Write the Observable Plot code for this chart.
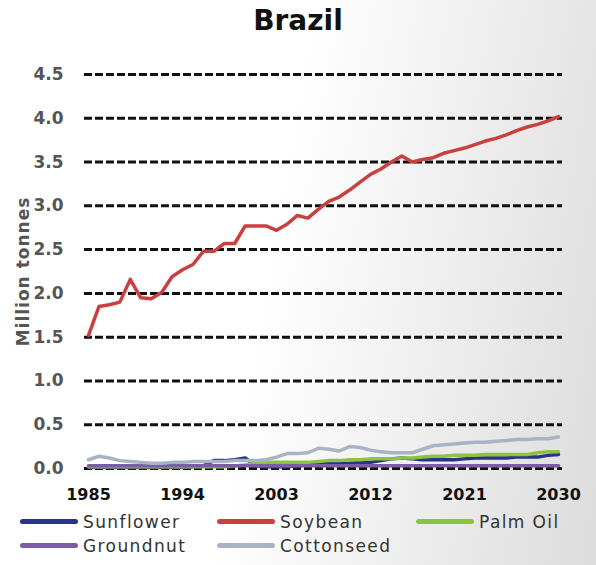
<!DOCTYPE html>
<html>
<head>
<meta charset="utf-8">
<script src="https://cdn.jsdelivr.net/npm/d3@7"></script>
<script src="https://cdn.jsdelivr.net/npm/@observablehq/plot@0.6"></script>
<style>
  html, body { margin: 0; padding: 0; }
  body {
    width: 596px; height: 565px; position: relative; overflow: hidden;
    background: linear-gradient(100deg, #ffffff 45%, #dcdcdc 100%);
    font-family: "DejaVu Sans", sans-serif;
  }
  #title {
    position: absolute; top: 7px; left: 0; width: 596px; text-align: center;
    font: bold 28px/1 "DejaVu Sans", sans-serif; color: #111;
  }
  #chart { position: absolute; top: 0; left: 0; }
  #chart [aria-label="y-axis label"] text { letter-spacing: 1px; }
  #legend {
    position: absolute; left: 20px; top: 511px;
    display: grid; grid-template-columns: 197px 199px auto; row-gap: 3px;
    font-size: 17px; letter-spacing: 1.4px; color: #333;
  }
  .item { display: flex; align-items: center; height: 21px; }
  .sw { width: 58px; height: 5px; border-radius: 3px; margin-right: 5px; }
</style>
</head>
<body>
<div id="title">Brazil</div>
<div id="chart"></div>
<div id="legend"></div>
<script>
const years = [1985,1986,1987,1988,1989,1990,1991,1992,1993,1994,1995,1996,1997,1998,1999,
  2000,2001,2002,2003,2004,2005,2006,2007,2008,2009,2010,2011,2012,2013,2014,2015,2016,
  2017,2018,2019,2020,2021,2022,2023,2024,2025,2026,2027,2028,2029,2030];

const sunflower = [0.01,0.01,0.01,0.01,0.01,0.01,0.01,0.01,0.01,0.01,0.02,0.03,0.09,0.09,0.10,
  0.12,0.03,0.02,0.02,0.02,0.03,0.04,0.05,0.06,0.06,0.06,0.07,0.07,0.09,0.11,0.12,0.11,
  0.10,0.10,0.10,0.10,0.11,0.12,0.12,0.12,0.12,0.13,0.13,0.13,0.15,0.16];

const soybean = [1.52,1.85,1.87,1.90,2.16,1.95,1.94,2.01,2.19,2.27,2.33,2.48,2.48,2.57,2.57,
  2.77,2.77,2.77,2.72,2.79,2.89,2.86,2.96,3.05,3.10,3.18,3.27,3.36,3.42,3.50,3.57,3.50,
  3.53,3.55,3.60,3.63,3.66,3.70,3.74,3.77,3.81,3.86,3.90,3.93,3.97,4.02];

const palmOil = [0.02,0.02,0.02,0.02,0.02,0.02,0.02,0.02,0.02,0.02,0.02,0.02,0.02,0.02,0.03,
  0.04,0.06,0.07,0.07,0.07,0.07,0.07,0.08,0.09,0.09,0.10,0.10,0.11,0.11,0.11,0.12,0.12,
  0.13,0.14,0.14,0.15,0.15,0.15,0.16,0.16,0.16,0.16,0.16,0.18,0.19,0.19];

const groundnut = [0.03,0.03,0.03,0.03,0.03,0.03,0.03,0.03,0.03,0.03,0.03,0.03,0.03,0.03,0.03,
  0.03,0.03,0.03,0.03,0.03,0.03,0.03,0.03,0.03,0.03,0.03,0.03,0.03,0.03,0.03,0.03,0.03,
  0.03,0.03,0.03,0.03,0.03,0.03,0.03,0.03,0.03,0.03,0.03,0.03,0.03,0.03];

const cottonseed = [0.10,0.14,0.12,0.09,0.08,0.07,0.06,0.06,0.07,0.07,0.08,0.08,0.08,0.08,0.09,
  0.09,0.09,0.10,0.13,0.17,0.17,0.18,0.23,0.22,0.20,0.25,0.24,0.21,0.19,0.18,0.18,0.18,
  0.22,0.26,0.27,0.28,0.29,0.30,0.30,0.31,0.32,0.33,0.33,0.34,0.34,0.36];

const seriesNames = ["Sunflower","Soybean","Palm Oil","Groundnut","Cottonseed"];
const seriesColors = ["#2b3289","#c9403f","#8cc43f","#7d5ca6","#a8b3c4"];
const seriesValues = [sunflower, soybean, palmOil, groundnut, cottonseed];

const xTicks = [1985,1994,2003,2012,2021,2030];
const yTicks = [0,0.5,1,1.5,2,2.5,3,3.5,4,4.5];

const data = seriesNames.flatMap((name, i) =>
  years.map((year, j) => ({series: name, year, value: seriesValues[i][j]})));

const chart = Plot.plot({
  width: 596,
  height: 510,
  marginTop: 74,
  marginBottom: 42,
  marginLeft: 84,
  marginRight: 34,
  style: {background: "transparent", fontFamily: "DejaVu Sans, sans-serif", overflow: "visible"},
  x: {domain: [1985, 2030], inset: 4},
  y: {domain: [0, 4.5]},
  color: {domain: seriesNames, range: seriesColors},
  marks: [
    Plot.ruleY(yTicks, {stroke: "#111", strokeWidth: 3, strokeDasharray: "8,3"}),
    Plot.line(data, {x: "year", y: "value", z: "series", stroke: "series", strokeWidth: 3.5,
      strokeLinejoin: "round", strokeLinecap: "round"}),
    Plot.axisX({ticks: xTicks, tickFormat: d => String(d), tickSize: 0, tickPadding: 20,
      fontSize: 16, fontWeight: "bold", fill: "#111", label: null}),
    Plot.axisY({ticks: yTicks, tickFormat: d => d.toFixed(1), tickSize: 0, tickPadding: 21,
      fontSize: 17, fontWeight: "bold", fill: "#555",
      label: "Million tonnes", labelAnchor: "center", labelArrow: "none", labelOffset: 68})
  ]
});
document.getElementById("chart").appendChild(chart);

const legend = document.getElementById("legend");
seriesNames.forEach((name, i) => {
  const item = document.createElement("div");
  item.className = "item";
  const sw = document.createElement("span");
  sw.className = "sw";
  sw.style.background = seriesColors[i];
  const label = document.createElement("span");
  label.textContent = name;
  item.appendChild(sw);
  item.appendChild(label);
  legend.appendChild(item);
});
</script>
</body>
</html>
